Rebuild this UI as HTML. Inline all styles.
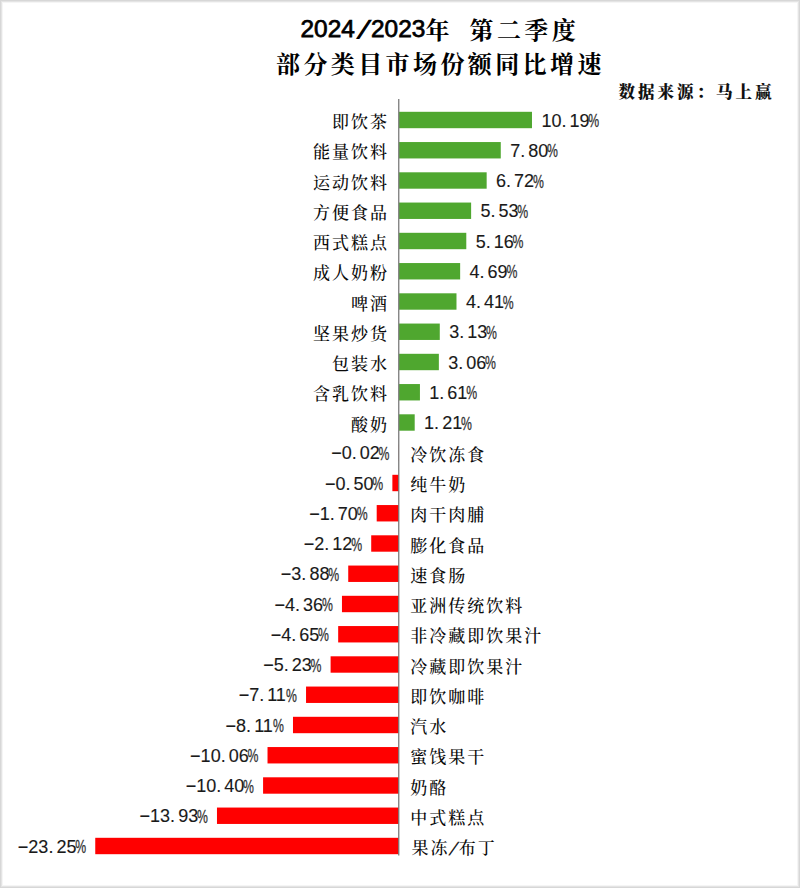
<!DOCTYPE html>
<html lang="zh-CN"><head><meta charset="utf-8"><title>2024/2023年 第二季度 部分类目市场份额同比增速</title><style>
html,body{margin:0;padding:0;background:#fff;}
body{width:800px;height:888px;overflow:hidden;position:relative;}
.frame{position:absolute;left:0;top:0;width:800px;height:888px;box-sizing:border-box;border:1px solid #d7d7d7;box-shadow:inset 0 0 0 1px #e4e4e4,inset 0 0 0 2px #f5f5f5;}
svg{position:absolute;left:0;top:0;}
rect{fill:#4fa72f;}
rect.r{fill:#ff0000;}
.t1{font-family:"Liberation Sans",sans-serif;font-size:24.4px;fill:#000;stroke:#000;stroke-width:0.75px;}
.t1c{font-family:"Liberation Serif","Noto Serif CJK SC",serif;font-weight:bold;font-size:24px;letter-spacing:3.4px;fill:#000;}
.t2{font-family:"Liberation Serif","Noto Serif CJK SC",serif;font-weight:bold;font-size:24px;letter-spacing:3.4px;fill:#000;}
.src{font-family:"Liberation Serif","Noto Serif CJK SC",serif;font-weight:900;font-size:16.5px;letter-spacing:3px;fill:#111;}
.c{font-family:"Liberation Serif","Noto Serif CJK SC",serif;font-weight:500;font-size:17px;letter-spacing:2.0px;fill:#0a0a0a;dominant-baseline:central;}
.v{font-family:"Liberation Sans",sans-serif;font-size:18px;fill:#1a1a1a;stroke:#1a1a1a;stroke-width:0.12px;dominant-baseline:central;}
.v .p{letter-spacing:3.0px;}
.v.pct{stroke-width:0.3px;fill:#333;stroke:#333;}
.c.sl{font-family:"Liberation Sans",sans-serif;font-size:18px;dominant-baseline:auto;stroke:#111;stroke-width:0.25px;}
</style></head><body>
<svg width="800" height="888" viewBox="0 0 800 888">
<text class="t1" x="300.5" y="37.4">2024</text>
<text class="t1" style="stroke-width:1.4px" transform="translate(357.3 38.4) skewX(-21)">/</text>
<text class="t1" x="371" y="37.4">2023</text>
<text class="t1c" x="425.5" y="38.6">年</text>
<text class="t1c" x="469.5" y="38.6">第二季度</text>
<text class="t2" x="276" y="72.5">部分类目市场份额同比增速</text>
<text class="src" x="618.6" y="98.3">数据来源：马上赢</text>
<rect x="398.90" y="111.80" width="133.08" height="16.4"/>
<rect x="398.90" y="142.05" width="101.87" height="16.4"/>
<rect x="398.90" y="172.30" width="87.76" height="16.4"/>
<rect x="398.90" y="202.55" width="72.22" height="16.4"/>
<rect x="398.90" y="232.80" width="67.39" height="16.4"/>
<rect x="398.90" y="263.05" width="61.25" height="16.4"/>
<rect x="398.90" y="293.30" width="57.59" height="16.4"/>
<rect x="398.90" y="323.55" width="40.88" height="16.4"/>
<rect x="398.90" y="353.80" width="39.96" height="16.4"/>
<rect x="398.90" y="384.05" width="21.03" height="16.4"/>
<rect x="398.90" y="414.30" width="15.80" height="16.4"/>
<rect class="r" x="398.64" y="444.55" width="0.26" height="16.4"/>
<rect class="r" x="392.37" y="474.80" width="6.53" height="16.4"/>
<rect class="r" x="376.70" y="505.05" width="22.20" height="16.4"/>
<rect class="r" x="371.21" y="535.30" width="27.69" height="16.4"/>
<rect class="r" x="348.23" y="565.55" width="50.67" height="16.4"/>
<rect class="r" x="341.96" y="595.80" width="56.94" height="16.4"/>
<rect class="r" x="338.17" y="626.05" width="60.73" height="16.4"/>
<rect class="r" x="330.60" y="656.30" width="68.30" height="16.4"/>
<rect class="r" x="306.04" y="686.55" width="92.86" height="16.4"/>
<rect class="r" x="292.98" y="716.80" width="105.92" height="16.4"/>
<rect class="r" x="267.52" y="747.05" width="131.38" height="16.4"/>
<rect class="r" x="263.08" y="777.30" width="135.82" height="16.4"/>
<rect class="r" x="216.97" y="807.55" width="181.93" height="16.4"/>
<rect class="r" x="95.25" y="837.80" width="303.65" height="16.4"/>
<rect x="398.10" y="99" width="1.3" height="756.5" style="fill:#7a7a7a"/>
<text class="c" x="389.1" y="122.50" text-anchor="end">即饮茶</text>
<text class="v" x="541.38" y="120.60">10<tspan class="p">.</tspan>19</text>
<text class="v pct" transform="translate(588.23 120.60) scale(0.68 1)">%</text>
<text class="c" x="389.1" y="152.75" text-anchor="end">能量饮料</text>
<text class="v" x="510.17" y="150.85">7<tspan class="p">.</tspan>80</text>
<text class="v pct" transform="translate(547.00 150.85) scale(0.68 1)">%</text>
<text class="c" x="389.1" y="183.00" text-anchor="end">运动饮料</text>
<text class="v" x="496.06" y="181.10">6<tspan class="p">.</tspan>72</text>
<text class="v pct" transform="translate(532.90 181.10) scale(0.68 1)">%</text>
<text class="c" x="389.1" y="213.25" text-anchor="end">方便食品</text>
<text class="v" x="480.52" y="211.35">5<tspan class="p">.</tspan>53</text>
<text class="v pct" transform="translate(517.36 211.35) scale(0.68 1)">%</text>
<text class="c" x="389.1" y="243.50" text-anchor="end">西式糕点</text>
<text class="v" x="475.69" y="241.60">5<tspan class="p">.</tspan>16</text>
<text class="v pct" transform="translate(512.52 241.60) scale(0.68 1)">%</text>
<text class="c" x="389.1" y="273.75" text-anchor="end">成人奶粉</text>
<text class="v" x="469.55" y="271.85">4<tspan class="p">.</tspan>69</text>
<text class="v pct" transform="translate(506.38 271.85) scale(0.68 1)">%</text>
<text class="c" x="389.1" y="304.00" text-anchor="end">啤酒</text>
<text class="v" x="465.89" y="302.10">4<tspan class="p">.</tspan>41</text>
<text class="v pct" transform="translate(502.73 302.10) scale(0.68 1)">%</text>
<text class="c" x="389.1" y="334.25" text-anchor="end">坚果炒货</text>
<text class="v" x="449.18" y="332.35">3<tspan class="p">.</tspan>13</text>
<text class="v pct" transform="translate(486.01 332.35) scale(0.68 1)">%</text>
<text class="c" x="389.1" y="364.50" text-anchor="end">包装水</text>
<text class="v" x="448.26" y="362.60">3<tspan class="p">.</tspan>06</text>
<text class="v pct" transform="translate(485.10 362.60) scale(0.68 1)">%</text>
<text class="c" x="389.1" y="394.75" text-anchor="end">含乳饮料</text>
<text class="v" x="429.33" y="392.85">1<tspan class="p">.</tspan>61</text>
<text class="v pct" transform="translate(466.16 392.85) scale(0.68 1)">%</text>
<text class="c" x="389.1" y="425.00" text-anchor="end">酸奶</text>
<text class="v" x="424.10" y="423.10">1<tspan class="p">.</tspan>21</text>
<text class="v pct" transform="translate(460.94 423.10) scale(0.68 1)">%</text>
<text class="c" x="410.3" y="455.25">冷饮冻食</text>
<text class="v" x="331.25" y="453.35">−0<tspan class="p">.</tspan>02</text>
<text class="v pct" transform="translate(378.59 453.35) scale(0.68 1)">%</text>
<text class="c" x="410.3" y="485.50">纯牛奶</text>
<text class="v" x="324.98" y="483.60">−0<tspan class="p">.</tspan>50</text>
<text class="v pct" transform="translate(372.32 483.60) scale(0.68 1)">%</text>
<text class="c" x="410.3" y="515.75">肉干肉脯</text>
<text class="v" x="309.31" y="513.85">−1<tspan class="p">.</tspan>70</text>
<text class="v pct" transform="translate(356.65 513.85) scale(0.68 1)">%</text>
<text class="c" x="410.3" y="546.00">膨化食品</text>
<text class="v" x="303.82" y="544.10">−2<tspan class="p">.</tspan>12</text>
<text class="v pct" transform="translate(351.17 544.10) scale(0.68 1)">%</text>
<text class="c" x="410.3" y="576.25">速食肠</text>
<text class="v" x="280.84" y="574.35">−3<tspan class="p">.</tspan>88</text>
<text class="v pct" transform="translate(328.18 574.35) scale(0.68 1)">%</text>
<text class="c" x="410.3" y="606.50">亚洲传统饮料</text>
<text class="v" x="274.57" y="604.60">−4<tspan class="p">.</tspan>36</text>
<text class="v pct" transform="translate(321.91 604.60) scale(0.68 1)">%</text>
<text class="c" x="410.3" y="636.75">非冷藏即饮果汁</text>
<text class="v" x="270.78" y="634.85">−4<tspan class="p">.</tspan>65</text>
<text class="v pct" transform="translate(318.12 634.85) scale(0.68 1)">%</text>
<text class="c" x="410.3" y="667.00">冷藏即饮果汁</text>
<text class="v" x="263.20" y="665.10">−5<tspan class="p">.</tspan>23</text>
<text class="v pct" transform="translate(310.55 665.10) scale(0.68 1)">%</text>
<text class="c" x="410.3" y="697.25">即饮咖啡</text>
<text class="v" x="238.65" y="695.35">−7<tspan class="p">.</tspan>11</text>
<text class="v pct" transform="translate(286.00 695.35) scale(0.68 1)">%</text>
<text class="c" x="410.3" y="727.50">汽水</text>
<text class="v" x="225.59" y="725.60">−8<tspan class="p">.</tspan>11</text>
<text class="v pct" transform="translate(272.94 725.60) scale(0.68 1)">%</text>
<text class="c" x="410.3" y="757.75">蜜饯果干</text>
<text class="v" x="190.11" y="755.85">−10<tspan class="p">.</tspan>06</text>
<text class="v pct" transform="translate(247.47 755.85) scale(0.68 1)">%</text>
<text class="c" x="410.3" y="788.00">奶酪</text>
<text class="v" x="185.67" y="786.10">−10<tspan class="p">.</tspan>40</text>
<text class="v pct" transform="translate(243.03 786.10) scale(0.68 1)">%</text>
<text class="c" x="410.3" y="818.25">中式糕点</text>
<text class="v" x="139.57" y="816.35">−13<tspan class="p">.</tspan>93</text>
<text class="v pct" transform="translate(196.93 816.35) scale(0.68 1)">%</text>
<text class="c" x="411.5" y="848.50">果冻</text>
<text class="c sl" transform="translate(448.6 855.10) skewX(-24)">/</text>
<text class="c" x="458.8" y="848.50">布丁</text>
<text class="v" x="17.85" y="846.60">−23<tspan class="p">.</tspan>25</text>
<text class="v pct" transform="translate(75.21 846.60) scale(0.68 1)">%</text>
</svg>
<div class="frame"></div>
</body></html>
